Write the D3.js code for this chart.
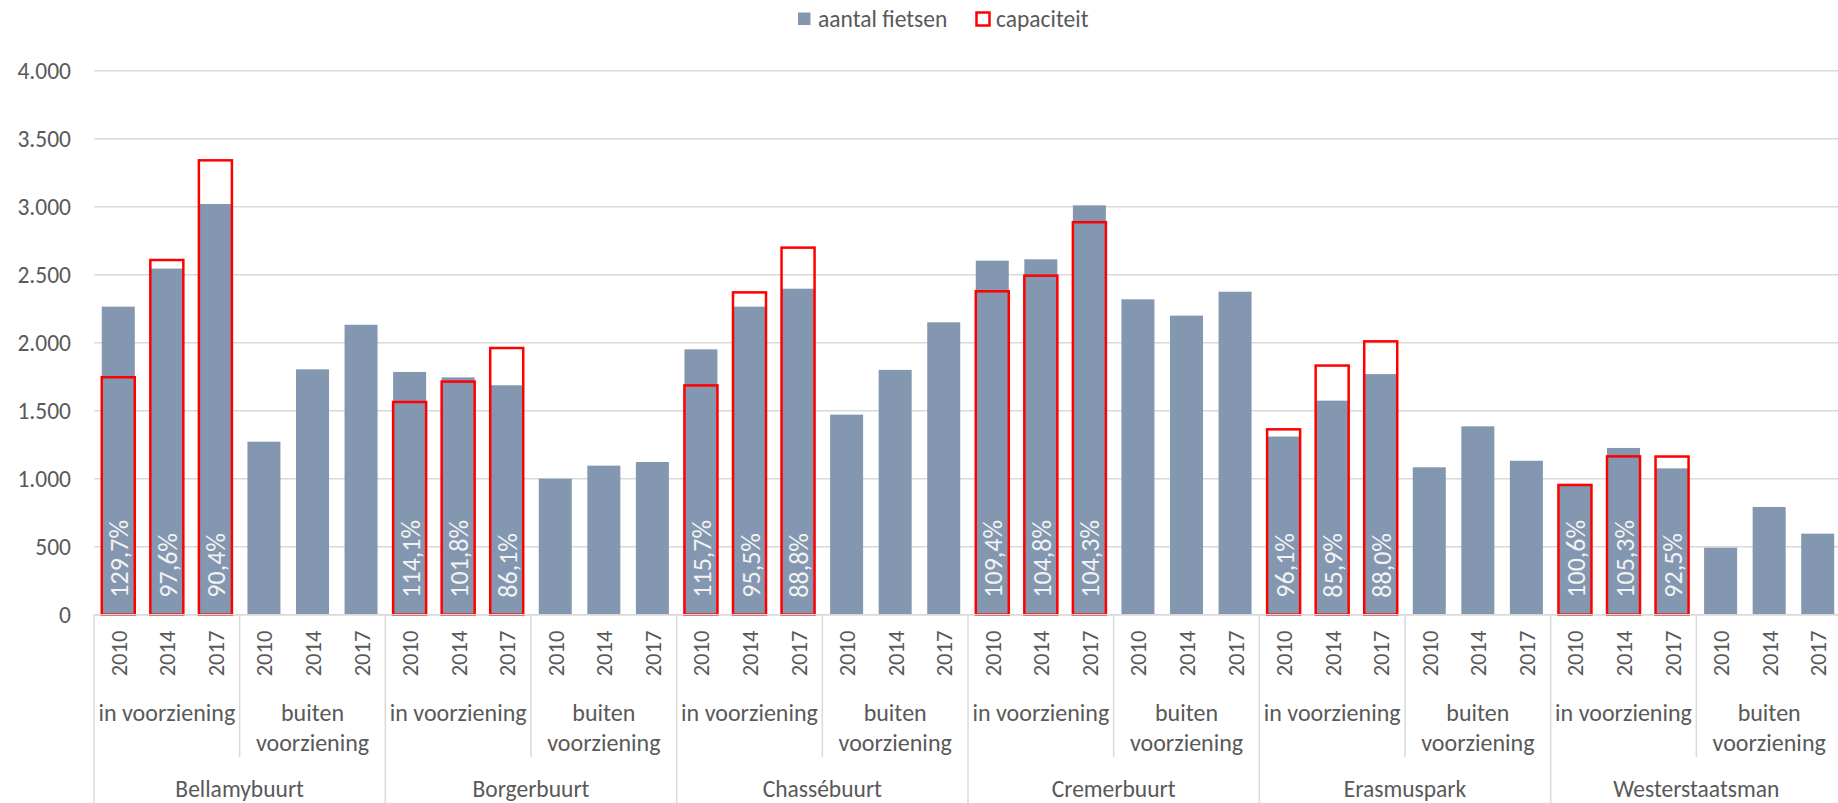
<!DOCTYPE html>
<html>
<head>
<meta charset="utf-8">
<script src="https://cdn.jsdelivr.net/npm/d3@7"></script>
<style>
body { margin: 0; background: #fff; overflow: hidden; }
text { font-family: Carlito, Calibri, Lato, sans-serif; fill: #595959; }
</style>
</head>
<body>
<div id="chart"></div>
<script>
var svgWidth = 1838;
var svgHeight = 803;

var buurten = ["Bellamybuurt", "Borgerbuurt", "Chassébuurt", "Cremerbuurt", "Erasmuspark", "Westerstaatsman"];
var locaties = ["in voorziening", "buiten voorziening"];
var jaren = ["2010", "2014", "2017"];

// per buurt: in voorziening 2010/2014/2017, dan buiten voorziening 2010/2014/2017
var aantalFietsen = [
    2265, 2545, 3020, 1272, 1804, 2132,
    1785, 1745, 1687, 1000, 1096, 1123,
    1951, 2265, 2397, 1471, 1800, 2150,
    2603, 2613, 3010, 2319, 2199, 2375,
    1310, 1574, 1769, 1084, 1385, 1132,
    960, 1226, 1076, 493, 792, 596
];
var capaciteit = [
    1746, 2608, 3341, null, null, null,
    1564, 1714, 1961, null, null, null,
    1686, 2370, 2699, null, null, null,
    2378, 2493, 2886, null, null, null,
    1363, 1832, 2010, null, null, null,
    954, 1164, 1163, null, null, null
];
var bezetting = [
    "129,7%", "97,6%", "90,4%", null, null, null,
    "114,1%", "101,8%", "86,1%", null, null, null,
    "115,7%", "95,5%", "88,8%", null, null, null,
    "109,4%", "104,8%", "104,3%", null, null, null,
    "96,1%", "85,9%", "88,0%", null, null, null,
    "100,6%", "105,3%", "92,5%", null, null, null
];
var yTicks = [0, 500, 1000, 1500, 2000, 2500, 3000, 3500, 4000];

var plotLeft = 94, plotRight = 1842, plotTop = 70.7, plotBottom = 614.7;
var grey = "#8497B0";
var gridColor = "#D9D9D9";

var rows = [];
buurten.forEach(function(b, bi) {
    locaties.forEach(function(l, li) {
        jaren.forEach(function(j, ji) {
            var i = bi * 6 + li * 3 + ji;
            rows.push({id: i, buurt: b, locatie: l, jaar: j,
                fietsen: aantalFietsen[i], cap: capaciteit[i], pct: bezetting[i]});
        });
    });
});

var svg = d3.select("#chart").append("svg")
    .attr("width", svgWidth)
    .attr("height", svgHeight);

var x = d3.scaleBand()
    .domain(rows.map(d => d.id))
    .range([plotLeft, plotRight])
    .paddingInner(0.32)
    .paddingOuter(0.16);

var y = d3.scaleLinear()
    .domain([0, 4000])
    .range([plotBottom, plotTop]);

var step = x.step();
var catStart = i => plotLeft + i * step;

// gridlines
svg.append("g").selectAll("line")
    .data(yTicks)
    .enter().append("line")
    .attr("x1", plotLeft).attr("x2", svgWidth)
    .attr("y1", d => y(d)).attr("y2", d => y(d))
    .attr("stroke", gridColor)
    .attr("stroke-width", 1.5);

// y tick labels
svg.append("g").selectAll("text")
    .data(yTicks)
    .enter().append("text")
    .attr("x", 71)
    .attr("y", d => y(d))
    .attr("text-anchor", "end")
    .attr("dominant-baseline", "central")
    .style("font-size", "23.5px")
    .text(d => d3.format(",")(d).replace(/,/g, "."));

// bars
svg.append("g").selectAll("rect")
    .data(rows)
    .enter().append("rect")
    .attr("x", d => x(d.id))
    .attr("width", x.bandwidth())
    .attr("y", d => y(d.fietsen))
    .attr("height", d => y(0) - y(d.fietsen))
    .attr("fill", grey);

// capaciteit outlines
svg.append("g").selectAll("rect")
    .data(rows.filter(d => d.cap != null))
    .enter().append("rect")
    .attr("x", d => x(d.id))
    .attr("width", x.bandwidth())
    .attr("y", d => y(d.cap))
    .attr("height", d => y(0) - y(d.cap))
    .attr("fill", "none")
    .attr("stroke", "#FF0000")
    .attr("stroke-width", 2.5);

// percentage labels
svg.append("g").selectAll("text")
    .data(rows.filter(d => d.pct != null))
    .enter().append("text")
    .attr("transform", d => `translate(${x(d.id) + x.bandwidth() / 2 + 1}, ${plotBottom - 17}) rotate(-90)`)
    .attr("dominant-baseline", "central")
    .style("font-size", "26px")
    .style("fill", "#F2F2F2")
    .text(d => d.pct);

// x axis line
svg.append("line")
    .attr("x1", plotLeft).attr("x2", svgWidth)
    .attr("y1", plotBottom).attr("y2", plotBottom)
    .attr("stroke", gridColor).attr("stroke-width", 1.5);

// year labels
svg.append("g").selectAll("text")
    .data(rows)
    .enter().append("text")
    .attr("transform", d => `translate(${x(d.id) + x.bandwidth() / 2 + 1}, ${plotBottom + 16}) rotate(-90)`)
    .attr("text-anchor", "end")
    .attr("dominant-baseline", "central")
    .style("font-size", "22.5px")
    .text(d => d.jaar);

// separators between locatie groups (short) and buurten (full height)
var seps = d3.range(0, rows.length + 1, 3);
svg.append("g").selectAll("line")
    .data(seps)
    .enter().append("line")
    .attr("x1", d => catStart(d)).attr("x2", d => catStart(d))
    .attr("y1", plotBottom)
    .attr("y2", d => d % 6 === 0 ? svgHeight : 757)
    .attr("stroke", gridColor).attr("stroke-width", 1.5);

// locatie labels
var locGroups = [];
buurten.forEach(function(b, bi) {
    locaties.forEach(function(l, li) {
        locGroups.push({start: bi * 6 + li * 3, label: l});
    });
});
var locText = svg.append("g").selectAll("text")
    .data(locGroups)
    .enter().append("text")
    .attr("x", d => catStart(d.start) + step * 1.5)
    .attr("y", 721)
    .attr("text-anchor", "middle")
    .style("font-size", "24px");
locText.each(function(d) {
    var t = d3.select(this);
    var lines = d.label === "in voorziening" ? [d.label] : d.label.split(" ");
    lines.forEach(function(s, k) {
        t.append("tspan")
            .attr("x", catStart(d.start) + step * 1.5)
            .attr("dy", k === 0 ? 0 : 30)
            .text(s);
    });
});

// buurt labels
svg.append("g").selectAll("text")
    .data(buurten)
    .enter().append("text")
    .attr("x", (d, i) => catStart(i * 6) + step * 3)
    .attr("y", 797)
    .attr("text-anchor", "middle")
    .style("font-size", "23.5px")
    .text(d => d);

// legend
var legend = svg.append("g");
legend.append("rect")
    .attr("x", 798).attr("y", 12.5).attr("width", 12.5).attr("height", 12.5)
    .attr("fill", grey);
legend.append("text")
    .attr("x", 818).attr("y", 19)
    .attr("dominant-baseline", "central")
    .style("font-size", "23.5px")
    .text("aantal fietsen");
legend.append("rect")
    .attr("x", 976.5).attr("y", 12.5).attr("width", 13).attr("height", 13)
    .attr("fill", "none").attr("stroke", "#FF0000").attr("stroke-width", 2.5);
legend.append("text")
    .attr("x", 996).attr("y", 19)
    .attr("dominant-baseline", "central")
    .style("font-size", "23.5px")
    .text("capaciteit");
</script>
</body>
</html>
